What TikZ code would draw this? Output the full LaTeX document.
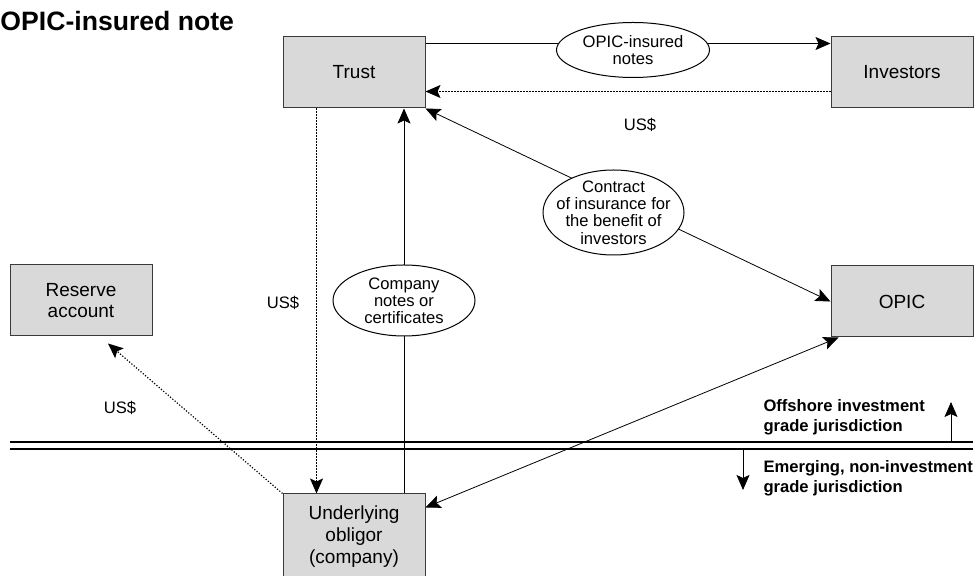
\documentclass[tikz,border=0pt]{standalone}
\usepackage{fontspec}
\setmainfont{Liberation Sans}
\usetikzlibrary{shapes.geometric}
\usetikzlibrary{positioning}
\usetikzlibrary{arrows.meta}
\usetikzlibrary{backgrounds}
\definecolor{boxgray}{HTML}{D9D9D9}
\definecolor{edgegray}{HTML}{3A3A3A}
\tikzset{party/.style={draw=edgegray,fill=boxgray,minimum width=71pt,minimum height=35.5pt,
                       inner sep=0pt,align=center,font=\fontsize{9.5}{10.8}\selectfont},
         deal/.style={draw,ellipse,fill=white,inner sep=-4pt,align=center,
                      font=\fontsize{8.3}{8.6}\selectfont},
         tip/.tip={Stealth[length=7.5pt,width=6.5pt,inset=1.5pt]},
         flow/.style={-tip},
         twoway/.style={tip-tip},
         cash/.style={flow,line width=0.6pt,dash pattern=on 0.6pt off 0.9pt},
         note/.style={font=\fontsize{8.3}{10}\selectfont},
         zone/.style={font=\bfseries\fontsize{8.3}{10}\selectfont,align=left,anchor=west,inner sep=0pt},
         }

\begin{document}
\begin{tikzpicture}[x=0.5pt,y=-0.5pt,line width=0.5pt]
\useasboundingbox (0,0) rectangle (976,576);
\node[anchor=west,inner sep=0pt,font=\bfseries\fontsize{13.3}{16}\selectfont] (title) at (0,21) {OPIC-insured note};

% parties
\node[party] (trust) at (354,72.5) {Trust};
\node[party,right=202.5pt of trust] (investors) {Investors};
\node[party,below=78.5pt of investors] (opic) {OPIC};
\node[party] (reserve) at (81,300.5) {Reserve\\account};
\node[party,below=192.5pt of trust,minimum height=42.5pt] (obligor) {Underlying\\obligor\\(company)};

% instruments
\node[deal,minimum width=76.5pt,minimum height=27.5pt] (notes) at (633,50) {OPIC-insured\\notes};
\node[deal,minimum width=70.5pt,minimum height=42.5pt] (contract) at (613.5,212.5) {Contract\\of insurance for\\the benefit of\\investors};
\node[deal,minimum width=71pt,minimum height=35.5pt] (certs) at (404,300.5) {Company\\notes or\\certificates};

\node[note] (usdinv) at (640,125) {US\$};
\node[note] (usdtrust) at (283,303) {US\$};
\node[note] (usdres) at (120,408) {US\$};

\node[zone] (offshore) at (763,417.5) {Offshore investment\\grade jurisdiction};
\node[zone] (onshore) at (763,478.5) {Emerging, non-investment\\grade jurisdiction};

\begin{scope}[on background layer]
  % border between the two jurisdictions
  \draw[line width=0.75pt] (10,442) -- (973,442);
  \draw[line width=0.75pt] (10,449) -- (973,449);
  \draw[flow] (951,442) -- (951,402);
  \draw[flow] (743,449) -- (743,490);
  % flows
  \draw[flow] ([yshift=-3.5pt]trust.north east) -- ([yshift=-3.5pt]investors.north west);
  \draw[cash] ([yshift=8.5pt]investors.south west) -- ([yshift=8.5pt]trust.south east);
  \draw[twoway] (trust.south east) -- (opic.west);
  \draw[flow] (certs |- obligor.north) -- (certs |- trust.south);
  \draw[cash] ([xshift=17pt]trust.south west) -- ([xshift=17pt]obligor.north west);
  \draw[cash] (obligor.north west) -- ([xshift=13.5pt,yshift=-3.5pt]reserve.south);
  \draw[twoway] ([yshift=-7pt]obligor.north east) -- ([xshift=4pt]opic.south west);
\end{scope}
\end{tikzpicture}
\end{document}
